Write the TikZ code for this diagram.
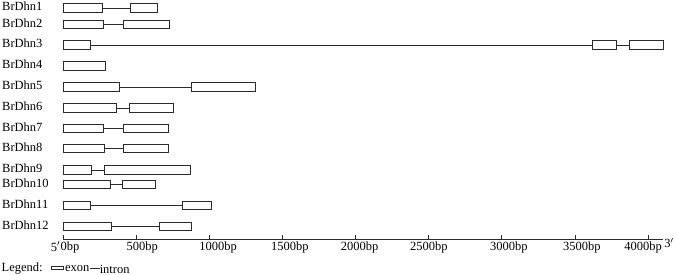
\documentclass[tikz,border=0pt]{standalone}
\usepackage{fontspec}
\setmainfont{Liberation Serif}
\usetikzlibrary{positioning}
\definecolor{Ink}{HTML}{2B2B2B}

\begin{document}
\begin{tikzpicture}[x=1pt,y=-1pt,
lbl/.style={inner sep=0pt,font=\fontsize{12.5}{14}\selectfont,text=black},
exon/.style={draw=Ink,fill=white,line width=0.9pt,inner sep=0pt,minimum height=8.4pt,anchor=west},
intron/.style={draw=Ink,line width=0.9pt},
axis/.style={draw=Ink,line width=0.9pt}]
\useasboundingbox (0,0) rectangle (677,275);
% genes with two exons: name/row/exon1 start/end/exon2 start/end
\foreach \n/\y/\a/\b/\c/\d in {1/8/63.3/101.7/130/157.3,2/24.5/63.3/102.7/123.3/169,
  5/87/63.3/118.7/190.7/255,6/108/63.3/116/128.7/173,7/128.5/63.3/102.7/123.3/168.3,
  8/148.5/63.3/103.7/123.3/168.3,9/170/63.3/90.7/104.3/190.3,10/184.5/63.3/109.7/122.3/154.7,
  11/205.5/63.3/90/182.3/211,12/226.5/63.3/111/158.7/191.3}{
  \pgfmathsetmacro\wa{\b-\a}\pgfmathsetmacro\wb{\d-\c}
  \node[lbl,anchor=west] (name\n) at (2,\y-1.5) {BrDhn\n};
  \node[exon,minimum width=\wa pt] (g\n a) at (\a,\y) {};
  \node[exon,minimum width=\wb pt] (g\n b) at (\c,\y) {};
  \draw[intron] (g\n a.east) -- (g\n b.west);
}
% BrDhn3, three exons
\node[lbl,anchor=west] (name3) at (2,43.5) {BrDhn3};
\node[exon,minimum width=27pt] (g3a) at (63.3,45) {};
\node[exon,minimum width=24pt] (g3b) at (591.7,45) {};
\node[exon,minimum width=33.7pt] (g3c) at (629,45) {};
\draw[intron] (g3a.east) -- (g3b.west);
\draw[intron] (g3b.east) -- (g3c.west);
% BrDhn4, one exon
\node[lbl,anchor=west] (name4) at (2,64.5) {BrDhn4};
\node[exon,minimum width=41.7pt] (g4a) at (63.3,66) {};
% scale
\coordinate (ax0) at (63.3,239);
\coordinate (ax1) at (662.7,239);
\draw[axis] (ax0) -- (ax1);
\foreach \i/\t/\s in {0/0/70.1,1/500/142.3,2/1000/218,3/1500/289.8,4/2000/359.5,
  5/2500/428.8,6/3000/508.8,7/3500/581.8,8/4000/643}{
  \draw[axis] (63.3+\i*73.1,239) -- ++(0,-3.6);
  \node[lbl,anchor=north] (tk\i) at (\s,241.5) {\t bp};
}
\node[lbl,anchor=north east,yshift=-2.5pt,xshift=-3pt] (p5) at (ax0) {5$'$};
\node[lbl,anchor=north west,yshift=1pt,xshift=1.5pt] (p3) at (ax1) {3$'$};
% legend
\node[lbl,anchor=base west] (leg) at (1.5,271) {Legend:};
\node[exon,minimum width=11.6pt,minimum height=3.6pt,right=8.5pt of leg] (lgex) {};
\node[lbl,anchor=base west] (ex) at ([xshift=1pt]lgex.east |- leg.base) {exon};
\node[lbl,anchor=base west] (in) at ([xshift=10pt]ex.east |- 0,273) {intron};
\draw[intron] (ex.east) -- (ex.east -| in.west);
\end{tikzpicture}
\end{document}
